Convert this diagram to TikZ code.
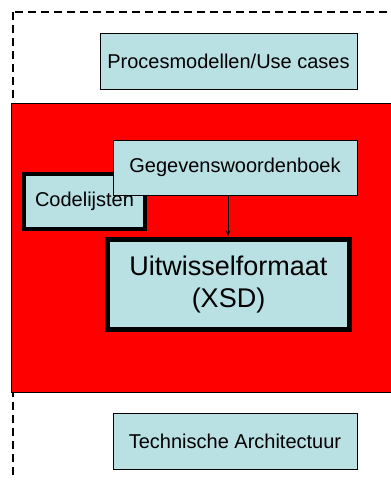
\documentclass[tikz,border=0pt]{standalone}
\usepackage{fontspec}
\setmainfont{Liberation Sans}
\usetikzlibrary{arrows.meta}
\definecolor{boxblue}{RGB}{185,224,227}
\begin{document}
\begin{tikzpicture}[x=1pt,y=-1pt,
    blok/.style={rectangle,draw=black,fill=boxblue,inner sep=0pt,
        font=\fontsize{20}{24}\selectfont},
    dikblok/.style={blok,line width=4.5pt}]
                \clip (0,0) rectangle (391,480);
                % kaders
                \draw[line width=1.3pt,dash pattern=on 8pt off 5pt] (13,12) rectangle (420,520);
                \draw[fill=red,line width=1pt] (11,103) rectangle (420,392);
                % blokken
                \node[blok,minimum width=257pt,minimum height=56pt] (proces) at(228.5,61){Procesmodellen/Use cases};
                \node[dikblok,minimum width=121pt,minimum height=55pt] (code) at(84.5,201.5){Codelijsten};
                \node[blok,minimum width=244pt,minimum height=55pt] (gegevens) at(235,167.5){Gegevenswoordenboek};
                \node[dikblok,minimum width=242pt,minimum height=90pt,align=center,
                    font=\fontsize{27}{32}\selectfont] (xsd) at(228.5,284.5){Uitwisselformaat\\(XSD)};
                \node[blok,minimum width=244pt,minimum height=56pt] (techniek) at(235,441){Technische Architectuur};
                \draw[-{Stealth[length=6pt,width=4.5pt]},line width=0.8pt,shorten >=0.8pt] (gegevens.south -| 228,0) --(xsd.north -| 228,0);
            \end{tikzpicture}
\end{document}
